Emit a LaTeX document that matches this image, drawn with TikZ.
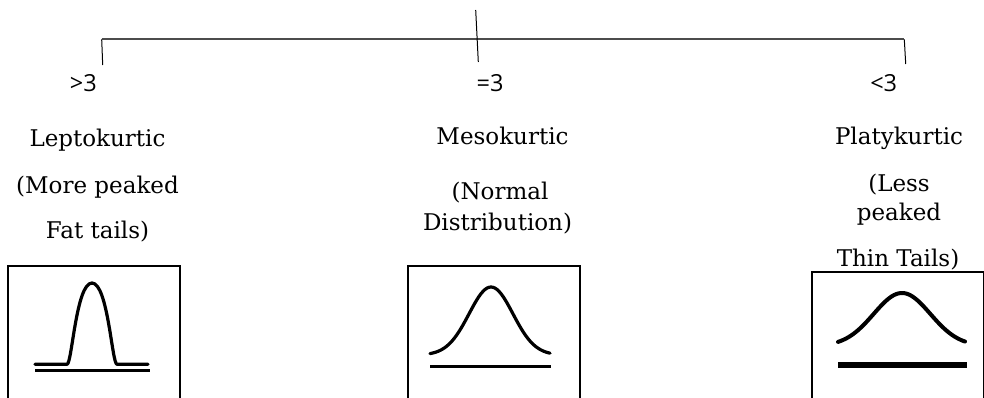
\documentclass[tikz,border=0pt]{standalone}
\usepackage{fontspec}
\setmainfont{DejaVu Serif}
\newfontfamily\kurtfont{Open Sans}
\usepackage{xcolor}
\usepackage{tikz}
\usetikzlibrary{positioning}

\begin{document}
\begin{tikzpicture}[
  x=1pt, y=-1pt,
  tree/.style={draw=black!70, line width=1.8pt},
  tick/.style={draw=black, line width=1pt},
  kval/.style={font=\kurtfont\fontsize{23.5}{28}\selectfont, anchor=base, inner sep=0pt},
  kname/.style={font=\fontsize{23}{28}\selectfont, anchor=base, inner sep=0pt},
  plotbox/.style={draw, line width=2pt, anchor=north west, outer sep=0pt,
    minimum width=172pt, minimum height=170pt},
  curve/.style={line width=3.2pt, line cap=round, line join=round},
  baseln/.style={line width=2.6pt}
]
  \useasboundingbox (0,0) rectangle (984,398);

  % tree
  \coordinate (stem) at (475.7,10);
  \coordinate (stemend) at (478.3,62);
  \coordinate (lcorner) at (101.7,39.3);
  \coordinate (rcorner) at (904.3,39.3);
  \coordinate (ltickend) at (102.7,65);
  \coordinate (rtickend) at (905.7,64);
  \draw[tree] (lcorner) -- (rcorner);
  \draw[tick] (stem) -- (stemend);
  \draw[tick] (lcorner) -- (ltickend);
  \draw[tick] (rcorner) -- (rtickend);

  % kurtosis values
  \node[kval] (gt) at (83.3,92) {>3};
  \node[kval] (eq) at (490,92) {=3};
  \node[kval] (lt) at (883.7,92) {<3};

  % names and descriptions
  \node[kname] (lepto) at (97.5,147) {Leptokurtic};
  \node[kname] (lepmore) at (97.5,193.3) {(More peaked};
  \node[kname] (lepfat) at (97.5,238.3) {Fat tails)};
  \node[kname] (meso) at (502.5,145) {Mesokurtic};
  \node[kname] (mesnorm) at (500,199.3) {(Normal};
  \node[kname] (mesdist) at (497.5,230) {Distribution)};
  \node[kname] (platy) at (899,145) {Platykurtic};
  \node[kname] (plaless) at (899,191.7) {(Less};
  \node[kname] (plapeak) at (899,220) {peaked};
  \node[kname] (plathin) at (898,266.7) {Thin Tails)};

  % boxes
  \node[plotbox] (lepbox) at (8.3,265.7) {};
  \node[plotbox] (mesbox) at (408.3,265.7) {};
  \node[plotbox, line width=1.6pt] (plabox) at (812,272) {};

  % leptokurtic curve
  \draw[curve] (35,364.3) -- (67,364.3)
    .. controls (72,364.3) and (76,283) .. (92,283)
    .. controls (108,283) and (112,364.3) .. (117,364.3) -- (148,364.3);
  \draw[baseln] (35,370.7) -- (150,370.7);

  % mesokurtic curve
  \draw[curve] plot[domain=430:550, samples=60]
    (\x, {355 - 68*exp(-(\x-491)*(\x-491)/961)});
  \draw[baseln] (430,366.7) -- (551,366.7);

  % platykurtic curve
  \draw[curve, line width=4pt] plot[domain=838:965, samples=60]
    (\x, {346 - 53*exp(-(\x-902)*(\x-902)/1600)});
  \draw[baseln, line width=6pt] (838,365) -- (967,365);
\end{tikzpicture}
\end{document}
